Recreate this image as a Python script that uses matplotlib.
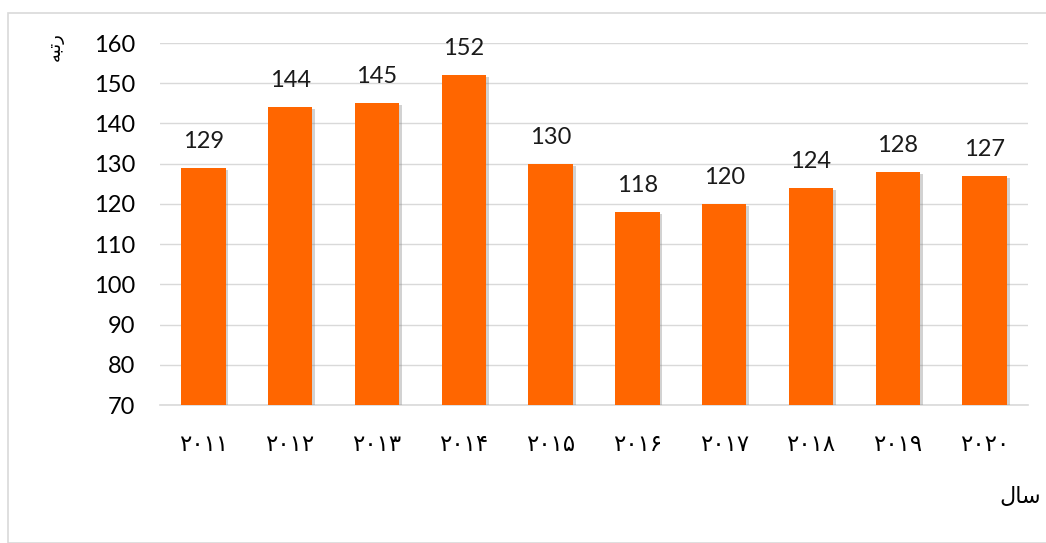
import matplotlib
matplotlib.use("Agg")
import matplotlib.pyplot as plt
import matplotlib.patheffects as pe
from matplotlib.patches import Rectangle

years = ["۲۰۱۱", "۲۰۱۲", "۲۰۱۳", "۲۰۱۴", "۲۰۱۵", "۲۰۱۶", "۲۰۱۷", "۲۰۱۸", "۲۰۱۹", "۲۰۲۰"]
ranks = [129, 144, 145, 152, 130, 118, 120, 124, 128, 127]
yticks = [70, 80, 90, 100, 110, 120, 130, 140, 150, 160]
ylabel = "ﻪﺒﺗﺭ"   # رتبه (shaped presentation forms, visual order)
xlabel = "ﻝﺎﺳ"    # سال

W, H = 1046, 543
fig = plt.figure(figsize=(W / 100, H / 100), dpi=100)
fig.patch.set_facecolor("white")

# outer chart frame
fig.add_artist(Rectangle((8 / W, 0), 1.2, (H - 13) / H, transform=fig.transFigure,
                         fill=False, edgecolor="#d9d9d9", linewidth=1.2))

NUMFONT = "Lato"
ax = fig.add_axes([160 / W, 1 - 405 / H, (1028 - 160) / W, (405 - 43) / H])
x = list(range(len(years)))
bars = ax.bar(x, ranks, width=0.51, color="#ff6600", zorder=3)
for b in bars:
    b.set_path_effects([pe.SimplePatchShadow(offset=(2, -1.5), shadow_rgbFace="#808080", alpha=0.35),
                        pe.Normal()])
ax.set_ylim(70, 160)
ax.set_xlim(-0.5, len(years) - 0.5)
ax.set_yticks(yticks)
ax.set_yticklabels([str(v) for v in yticks], fontsize=17, fontfamily=NUMFONT)
ax.set_xticks(x)
ax.set_xticklabels(years, fontsize=16.5, fontfamily="DejaVu Sans")
ax.tick_params(axis="both", length=0)
ax.tick_params(axis="y", pad=18)
ax.tick_params(axis="x", pad=20)
ax.grid(axis="y", color="#d9d9d9", linewidth=1, zorder=0)
for s in ["top", "right", "left"]:
    ax.spines[s].set_visible(False)
ax.spines["bottom"].set_color("#d9d9d9")
ax.spines["bottom"].set_linewidth(1.2)

for xi, v in zip(x, ranks):
    ax.text(xi, v + 5.0, str(v), ha="center", va="baseline", fontsize=17,
            fontfamily=NUMFONT, color="#1a1a1a")

fig.text(55 / W, 1 - 47 / H, ylabel, rotation=90, ha="center", va="center",
         fontsize=13, fontfamily="DejaVu Sans")
fig.text(1020 / W, 1 - 497 / H, xlabel, ha="center", va="center",
         fontsize=16, fontfamily="DejaVu Sans")

fig.savefig("out.png", dpi=100)
